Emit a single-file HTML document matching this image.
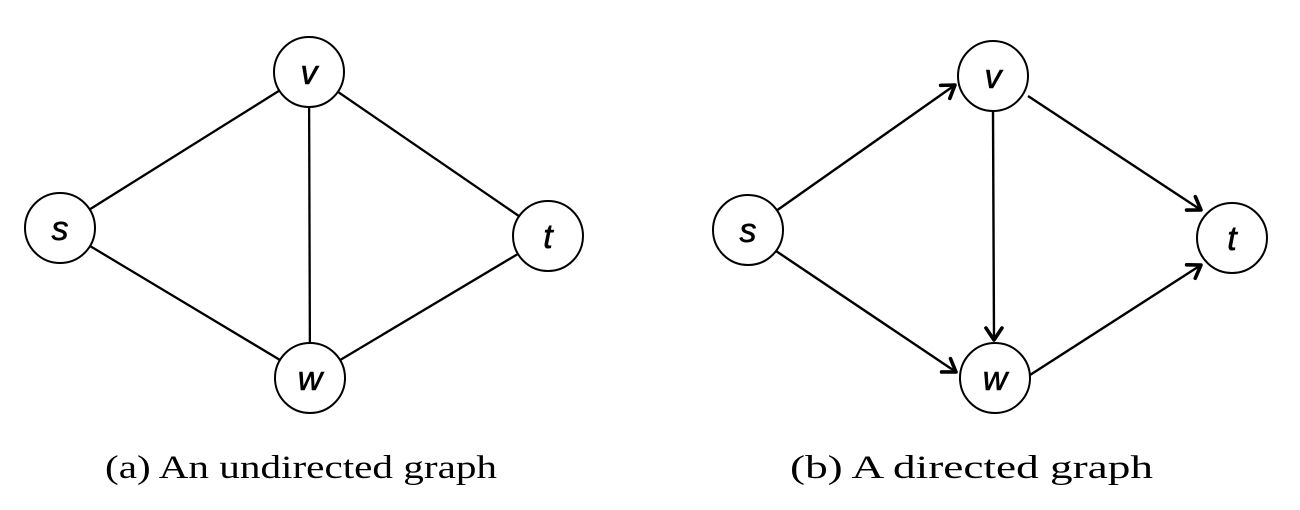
<!DOCTYPE html>
<html><head><meta charset="utf-8"><style>
html,body{margin:0;padding:0;background:#fff;}
svg{display:block;}
</style></head><body>
<svg width="1300" height="510" viewBox="0 0 1300 510" xmlns="http://www.w3.org/2000/svg">
<defs>
<marker id="ah" markerWidth="24" markerHeight="24" refX="15" refY="10" orient="auto" markerUnits="userSpaceOnUse">
<path d="M3,2 L15,10 L3,18" fill="none" stroke="#000" stroke-width="3.6" stroke-linecap="round" stroke-linejoin="round"/>
</marker>
</defs>
<g stroke="#000" stroke-width="2.3" fill="none">
<line x1="60" y1="228" x2="309" y2="72"/>
<line x1="60" y1="228" x2="310" y2="378"/>
<line x1="309" y1="72" x2="310" y2="378"/>
<line x1="309" y1="72" x2="548" y2="236"/>
<line x1="310" y1="378" x2="548" y2="236"/>
</g>
<g stroke="#000" stroke-width="2.4" fill="none">
<line x1="776" y1="211" x2="955" y2="85" marker-end="url(#ah)"/>
<line x1="776" y1="251" x2="956" y2="372" marker-end="url(#ah)"/>
<line x1="993" y1="111" x2="994" y2="340" marker-end="url(#ah)"/>
<line x1="1028" y1="96" x2="1201" y2="210" marker-end="url(#ah)"/>
<line x1="1030" y1="375" x2="1201" y2="265" marker-end="url(#ah)"/>
</g>
<g stroke="#000" stroke-width="2" fill="#fff">
<circle cx="309" cy="72" r="35"/>
<circle cx="60" cy="228" r="35"/>
<circle cx="548" cy="236" r="35"/>
<circle cx="310" cy="378" r="35"/>
<circle cx="993" cy="76" r="35"/>
<circle cx="748" cy="230" r="35"/>
<circle cx="1232" cy="238" r="35"/>
<circle cx="995" cy="378" r="35"/>
</g>
<g font-family="Liberation Sans, sans-serif" font-style="italic" font-size="34" text-anchor="middle" fill="#000" stroke="#000" stroke-width="0.6">
<text x="309" y="84">v</text>
<text x="60" y="240">s</text>
<text x="548" y="248">t</text>
<text x="310" y="390">w</text>
<text x="993" y="88">v</text>
<text x="748" y="242">s</text>
<text x="1232" y="250">t</text>
<text x="995" y="390">w</text>
</g>
<g font-family="Liberation Serif, serif" font-size="33" fill="#000">
<text x="105" y="478" textLength="392" lengthAdjust="spacingAndGlyphs">(a)  An undirected graph</text>
<text x="790" y="478" textLength="363" lengthAdjust="spacingAndGlyphs">(b)  A directed graph</text>
</g>
</svg>
</body></html>
